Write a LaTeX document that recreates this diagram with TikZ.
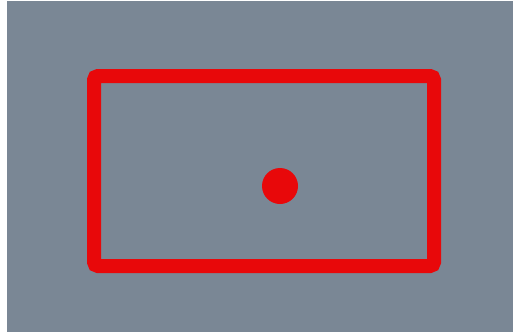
\documentclass[tikz,border=0pt]{standalone}
\usepackage{tikz}
\definecolor{bggray}{RGB}{122,135,149}
\definecolor{markred}{RGB}{232,8,10}
\tikzset{
  frame/.style={draw=markred, line width=14pt, rounded corners=4pt},
  spot/.style={circle, fill=markred, minimum size=36pt, inner sep=0pt}
}
\begin{document}
\begin{tikzpicture}[x=1pt, y=-1pt]
  \useasboundingbox (0,0) rectangle (513,335);
  \fill[white] (0,0) rectangle (513,335);
  \fill[bggray] (7,1) rectangle (513,332);
  \draw[frame] (94,76) rectangle (434,266);
  \node[spot] (dot) at (280,186) {};
\end{tikzpicture}
\end{document}
